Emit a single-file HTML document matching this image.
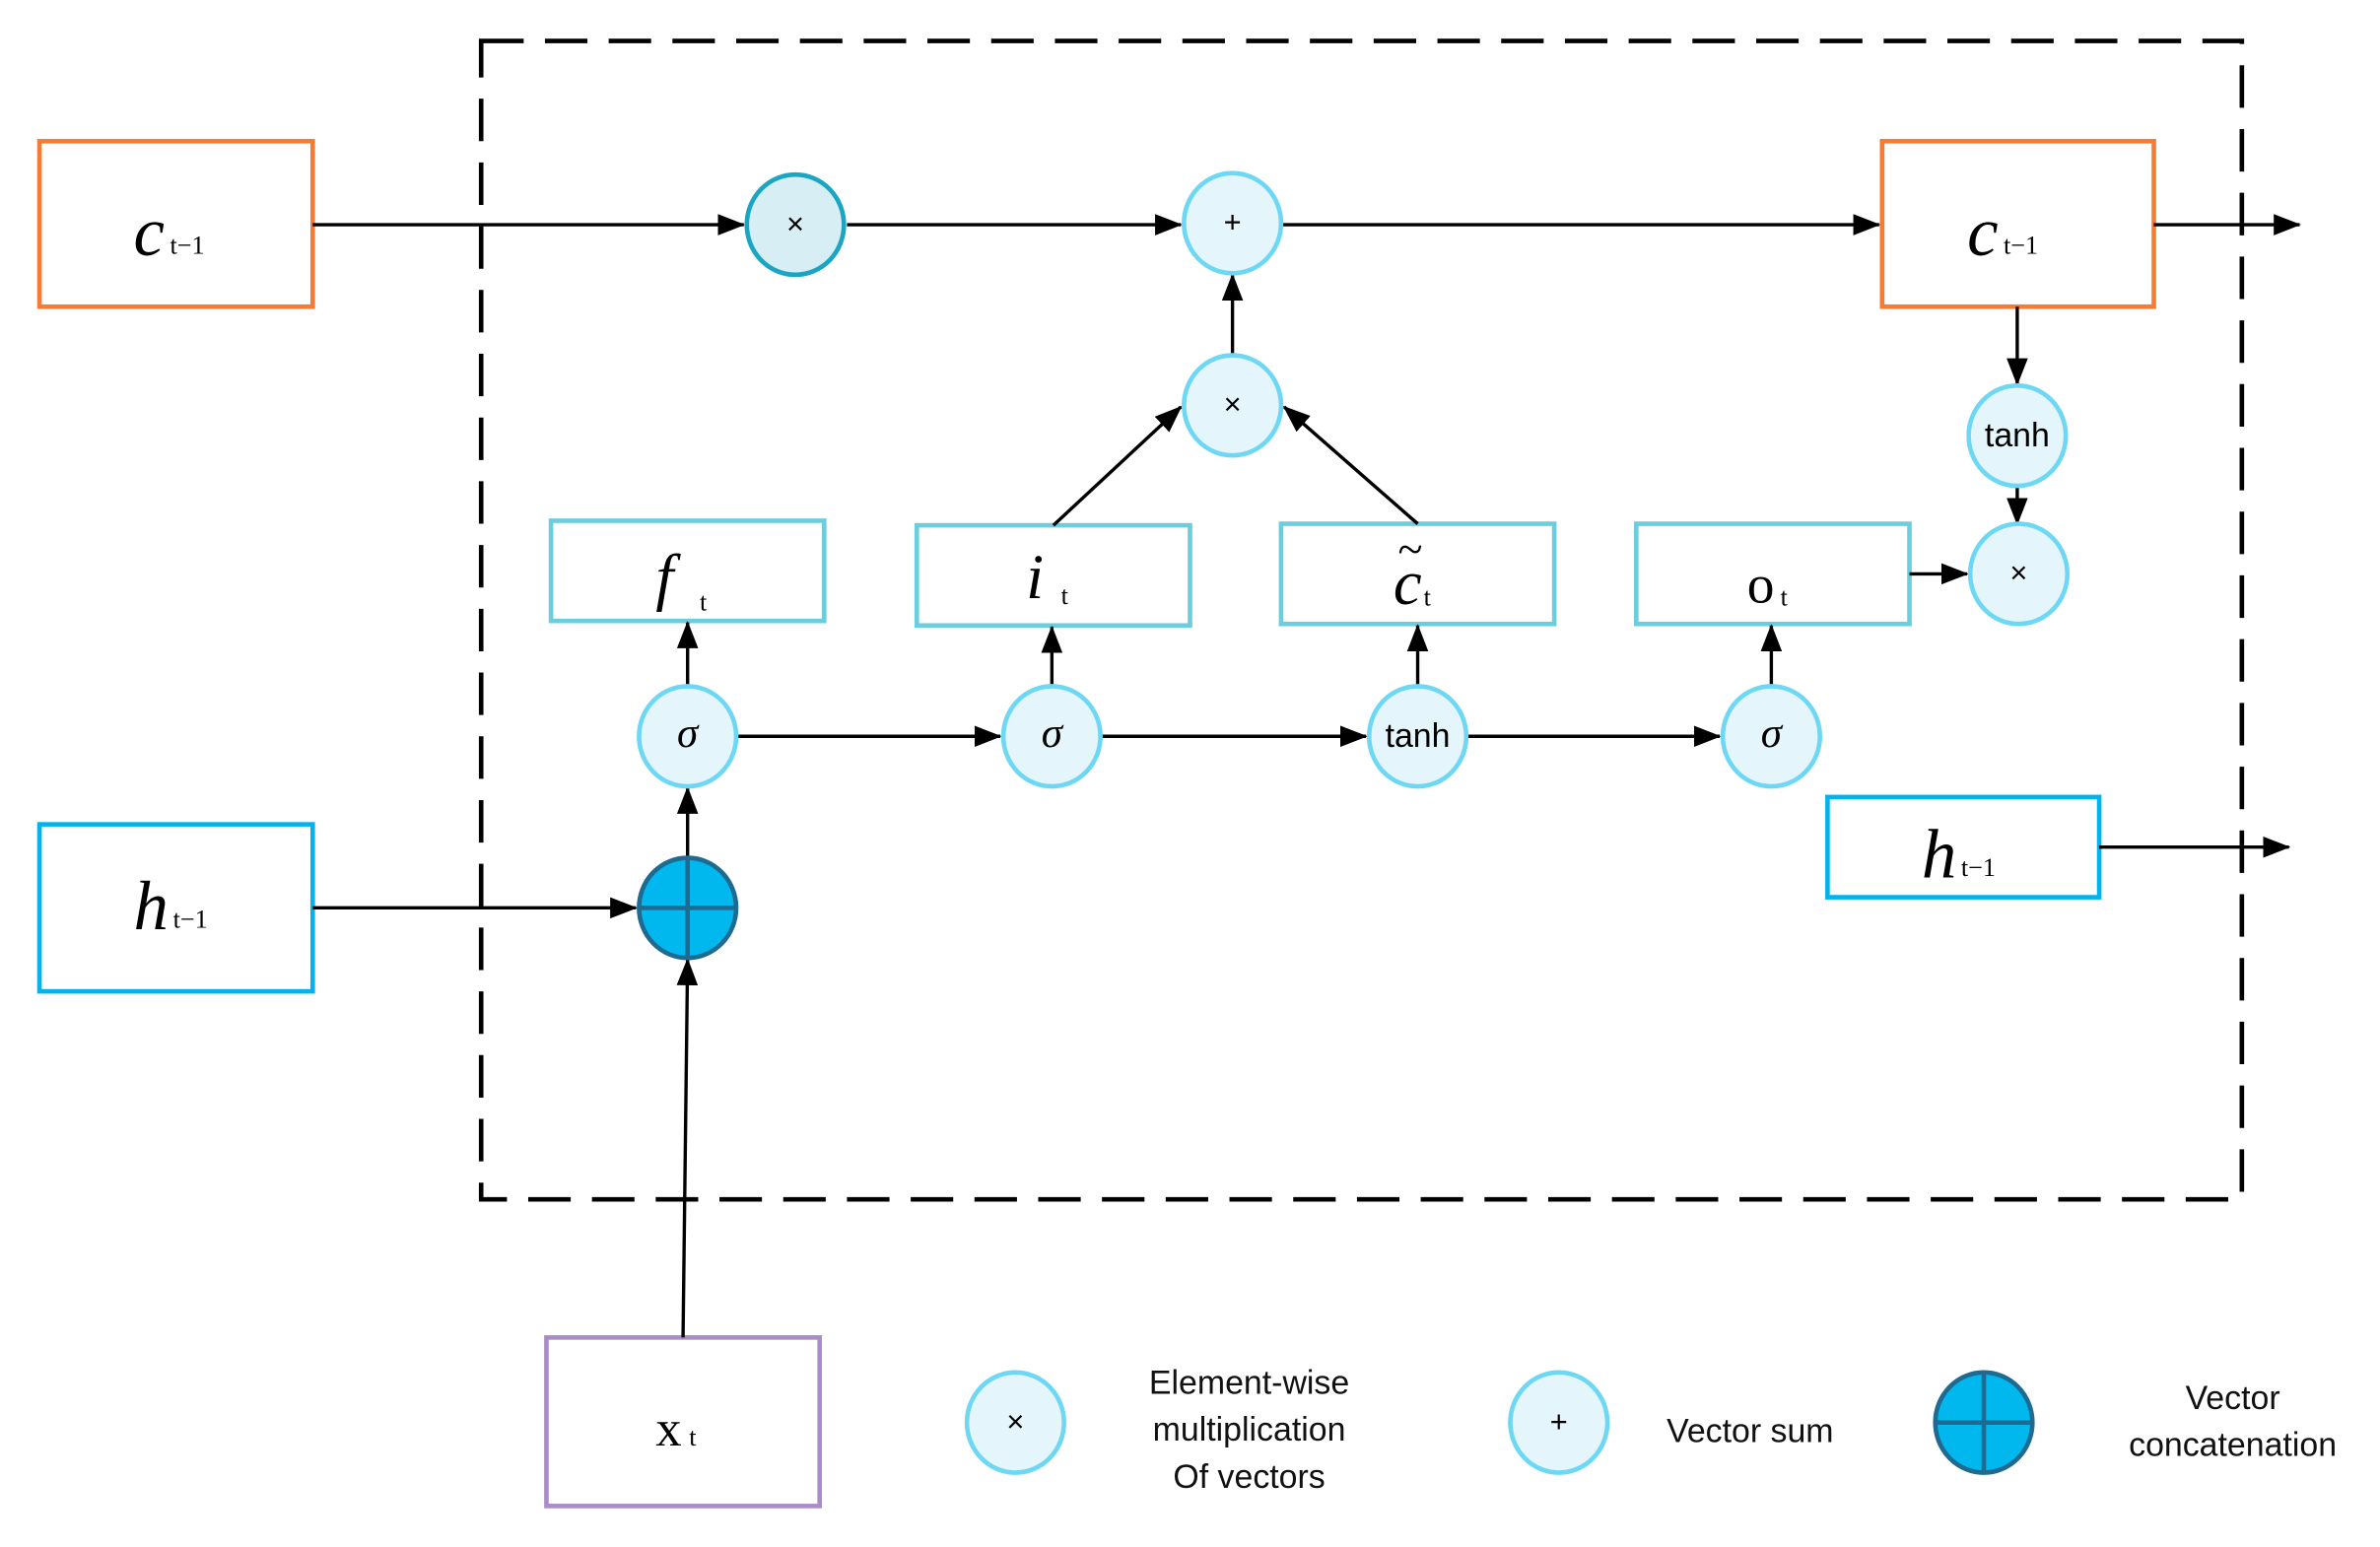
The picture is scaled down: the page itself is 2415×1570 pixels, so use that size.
<!DOCTYPE html>
<html><head><meta charset="utf-8"><style>
html,body{margin:0;padding:0;background:#fff;}
svg{display:block;}
.c{fill:#E4F6FC;stroke:#6ED8F4;stroke-width:3;}
.g{fill:#fff;stroke:#6CCDDD;stroke-width:3;}
.l{stroke:#000;stroke-width:2.2;fill:none;}
.m{font-family:"Liberation Serif",serif;font-style:italic;}
.s{font-family:"Liberation Sans",sans-serif;}
.sub{font-family:"Liberation Serif",serif;font-size:17px;}
</style></head><body>
<svg width="2415" height="1570" viewBox="0 0 1568 1019" preserveAspectRatio="none" xmlns="http://www.w3.org/2000/svg">
<defs>
<marker id="b" markerWidth="18" markerHeight="14" refX="17" refY="7" orient="auto" markerUnits="userSpaceOnUse" viewBox="0 0 18 14"><path d="M0,0 L18,7 L0,14 z" fill="#000"/></marker></defs>
<rect x="317" y="27" width="1160" height="763" fill="none" stroke="#000" stroke-width="3" stroke-dasharray="28,14"/>
<rect x="26" y="93" width="180" height="109" fill="#fff" stroke="#F97A30" stroke-width="3"/>
<rect x="1240" y="93" width="179" height="109" fill="#fff" stroke="#F97A30" stroke-width="3"/>
<rect x="26" y="543" width="180" height="110" fill="#fff" stroke="#00B2EE" stroke-width="3"/>
<rect x="1204" y="525" width="179" height="66" fill="#fff" stroke="#00B2EE" stroke-width="3"/>
<rect x="360" y="881" width="180" height="111" fill="#fff" stroke="#A98CC8" stroke-width="3"/>
<rect class="g" x="363" y="343" width="180" height="66"/>
<rect class="g" x="604" y="346" width="180" height="66"/>
<rect class="g" x="844" y="345" width="180" height="66"/>
<rect class="g" x="1078" y="345" width="180" height="66"/>
<line class="l" x1="206" y1="148" x2="490" y2="148" marker-end="url(#b)"/>
<line class="l" x1="558" y1="148" x2="778" y2="148" marker-end="url(#b)"/>
<line class="l" x1="845" y1="148" x2="1238" y2="148" marker-end="url(#b)"/>
<line class="l" x1="1419" y1="148" x2="1515" y2="148" marker-end="url(#b)"/>
<line class="l" x1="812" y1="234" x2="812" y2="181" marker-end="url(#b)"/>
<line class="l" x1="694" y1="346" x2="778" y2="268" marker-end="url(#b)"/>
<line class="l" x1="934" y1="345" x2="846" y2="268" marker-end="url(#b)"/>
<line class="l" x1="1329" y1="202" x2="1329" y2="253" marker-end="url(#b)"/>
<line class="l" x1="1329" y1="320" x2="1329" y2="345" marker-end="url(#b)"/>
<line class="l" x1="1258" y1="378" x2="1296" y2="378" marker-end="url(#b)"/>
<line class="l" x1="1383" y1="558" x2="1508" y2="558" marker-end="url(#b)"/>
<line class="l" x1="206" y1="598" x2="419" y2="598" marker-end="url(#b)"/>
<line class="l" x1="450" y1="881" x2="453" y2="632" marker-end="url(#b)"/>
<line class="l" x1="453" y1="565" x2="453" y2="519" marker-end="url(#b)"/>
<line class="l" x1="453" y1="452" x2="453" y2="410" marker-end="url(#b)"/>
<line class="l" x1="693" y1="452" x2="693" y2="413" marker-end="url(#b)"/>
<line class="l" x1="934" y1="452" x2="934" y2="412" marker-end="url(#b)"/>
<line class="l" x1="1167" y1="452" x2="1167" y2="412" marker-end="url(#b)"/>
<line class="l" x1="486" y1="485" x2="659" y2="485" marker-end="url(#b)"/>
<line class="l" x1="726" y1="485" x2="900" y2="485" marker-end="url(#b)"/>
<line class="l" x1="967" y1="485" x2="1133" y2="485" marker-end="url(#b)"/>
<ellipse cx="524" cy="148" rx="32" ry="33" fill="#D6EEF4" stroke="#1AA6C2" stroke-width="3"/>
<ellipse class="c" cx="812" cy="147" rx="32" ry="33"/>
<ellipse class="c" cx="812" cy="267" rx="32" ry="33"/>
<ellipse class="c" cx="1329" cy="287" rx="32" ry="33"/>
<ellipse class="c" cx="1330" cy="378" rx="32" ry="33"/>
<ellipse class="c" cx="453" cy="485" rx="32" ry="33"/>
<ellipse class="c" cx="693" cy="485" rx="32" ry="33"/>
<ellipse class="c" cx="934" cy="485" rx="32" ry="33"/>
<ellipse class="c" cx="1167" cy="485" rx="32" ry="33"/>
<ellipse class="c" cx="669" cy="937" rx="32" ry="33"/>
<ellipse class="c" cx="1027" cy="937" rx="32" ry="33"/>
<g stroke="#1E6A90" stroke-width="3"><ellipse cx="453" cy="598" rx="32" ry="33" fill="#00B8EE"/><line x1="421" y1="598" x2="485" y2="598"/><line x1="453" y1="565" x2="453" y2="631"/>
<ellipse cx="1307" cy="937" rx="32" ry="33" fill="#00B8EE"/><line x1="1275" y1="937" x2="1339" y2="937"/><line x1="1307" y1="904" x2="1307" y2="970"/></g>
<g class="s" font-size="20" text-anchor="middle" fill="#000">
<text x="524" y="154">×</text><text x="812" y="153">+</text><text x="812" y="273">×</text><text x="1330" y="384">×</text>
<text x="669" y="943">×</text><text x="1027" y="943">+</text>
</g>
<g class="s" font-size="22" text-anchor="middle"><text x="1329" y="294">tanh</text><text x="934" y="492">tanh</text></g>
<g class="m" font-size="28" text-anchor="middle"><text x="453" y="492">σ</text><text x="693" y="492">σ</text><text x="1167" y="492">σ</text></g>
<text class="m" x="88" y="168" font-size="46">c</text><text class="sub" x="112" y="167">t−1</text>
<text class="m" x="1296" y="168" font-size="46">c</text><text class="sub" x="1320" y="167">t−1</text>
<text class="m" x="88" y="612" font-size="46">h</text><text class="sub" x="114" y="611">t−1</text>
<text class="m" x="1266" y="578" font-size="46">h</text><text class="sub" x="1292" y="577">t−1</text>
<text x="432" y="952" font-family="Liberation Serif,serif" font-size="34">x</text><text class="sub" x="454" y="952">t</text>
<text class="m" x="432" y="394" font-size="42">f</text><text class="sub" x="461" y="402">t</text>
<text class="m" x="676" y="394" font-size="42">i</text><text class="sub" x="699" y="398">t</text>
<text class="m" x="918" y="398" font-size="42">c</text><text class="sub" x="938" y="399">t</text>
<text x="921" y="372" font-family="Liberation Serif,serif" font-size="30">~</text>
<text x="1151" y="397" font-family="Liberation Serif,serif" font-size="36">o</text><text class="sub" x="1173" y="399">t</text>
<g class="s" font-size="22" text-anchor="middle" fill="#111">
<text x="823" y="918">Element-wise</text><text x="823" y="949">multiplication</text><text x="823" y="980">Of vectors</text>
<text x="1153" y="950">Vector sum</text>
<text x="1471" y="928">Vector</text><text x="1471" y="959">concatenation</text>
</g>
</svg>
</body></html>
